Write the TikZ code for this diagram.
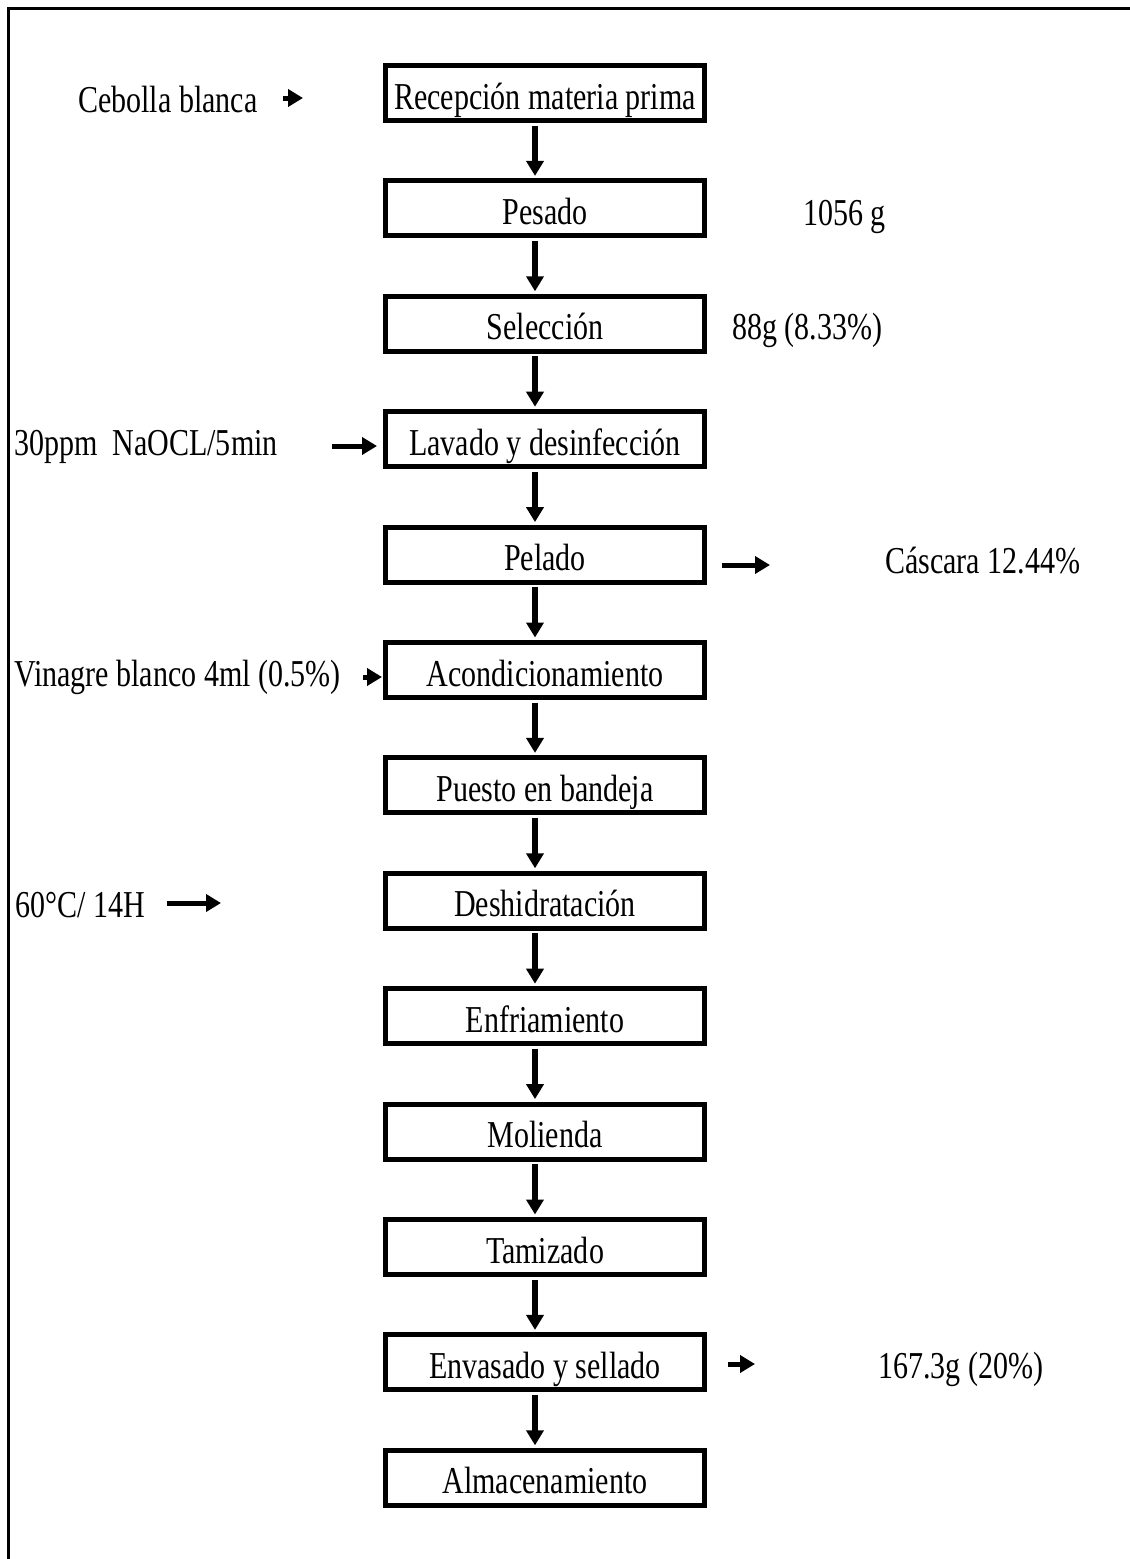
\documentclass[tikz,border=0pt]{standalone}
\usepackage{fontspec}
\setmainfont{Liberation Serif}[FakeStretch=0.79]
\usetikzlibrary{arrows.meta}
\begin{document}
\begin{tikzpicture}[x=1pt,y=-1pt,
  txt/.style={font=\fontsize{38}{42}\selectfont},
  proc/.style={txt, draw, line width=5pt, minimum width=319pt, minimum height=55pt,
    inner sep=0pt, text height=34pt, text depth=2pt},
  lbl/.style={txt, inner sep=0pt},
  flow/.style={line width=6pt, shorten >=2.5pt, shorten <=2.5pt, -{Triangle[width=17pt,length=15pt]}},
  side/.style={line width=5pt, -{Triangle[width=17pt,length=15pt]}}
]
\useasboundingbox (0,0) rectangle (1130,1559);
\draw[line width=3.5pt] (8.3,1559) -- (8.3,8.5) -- (1130,8.5);

\node[proc] (n0)  at (545, 93.0)   {Recepción materia prima};
\node[proc] (n1)  at (545, 208.4)  {Pesado};
\node[proc] (n2)  at (545, 323.8)  {Selección};
\node[proc] (n3)  at (545, 439.2)  {Lavado y desinfección};
\node[proc] (n4)  at (545, 554.6)  {Pelado};
\node[proc] (n5)  at (545, 670.0)  {Acondicionamiento};
\node[proc] (n6)  at (545, 785.4)  {Puesto en bandeja};
\node[proc] (n7)  at (545, 900.8)  {Deshidratación};
\node[proc] (n8)  at (545, 1016.2) {Enfriamiento};
\node[proc] (n9)  at (545, 1131.6) {Molienda};
\node[proc] (n10) at (545, 1247.0) {Tamizado};
\node[proc] (n11) at (545, 1362.4) {Envasado y sellado};
\node[proc] (n12) at (545, 1477.8) {Almacenamiento};

\foreach \a/\b in {n0/n1,n1/n2,n2/n3,n3/n4,n4/n5,n5/n6,n6/n7,n7/n8,n8/n9,n9/n10,n10/n11,n11/n12}
  \draw[flow] ([xshift=-10pt]\a.south) -- ([xshift=-10pt]\b.north);

% side labels
\node[lbl, anchor=base west] (l0) at (78,112)   {Cebolla blanca};
\node[lbl, anchor=base west] (r1) at (803,225)  {1056 g};
\node[lbl, anchor=base west] (r2) at (732,339)  {88g (8.33\%)};
\node[lbl, anchor=base west] (l3) at (14,455)   {30ppm\ \ NaOCL/5min};
\node[lbl, anchor=base west] (r4) at (885,573)  {Cáscara 12.44\%};
\node[lbl, anchor=base west] (l5) at (14,686)   {Vinagre blanco 4ml (0.5\%)};
\node[lbl, anchor=base west] (l7) at (15,917)   {60°C/ 14H};
\node[lbl, anchor=base west] (r11) at (878,1378) {167.3g (20\%)};

% side arrows
\coordinate (a0s) at (283,98);   \coordinate (a0e) at (303,98);
\coordinate (a3s) at (332,446);  \coordinate (a3e) at (377,446);
\coordinate (a4s) at (722,565);  \coordinate (a4e) at (770,565);
\coordinate (a5s) at (363,677);  \coordinate (a5e) at (382,677);
\coordinate (a7s) at (167,903);  \coordinate (a7e) at (221,903);
\coordinate (a11s) at (728,1364); \coordinate (a11e) at (755,1364);
\draw[side] (a0s) -- (a0e);
\draw[side] (a3s) -- (a3e);
\draw[side] (a4s) -- (a4e);
\draw[side] (a5s) -- (a5e);
\draw[side] (a7s) -- (a7e);
\draw[side] (a11s) -- (a11e);
\end{tikzpicture}
\end{document}
